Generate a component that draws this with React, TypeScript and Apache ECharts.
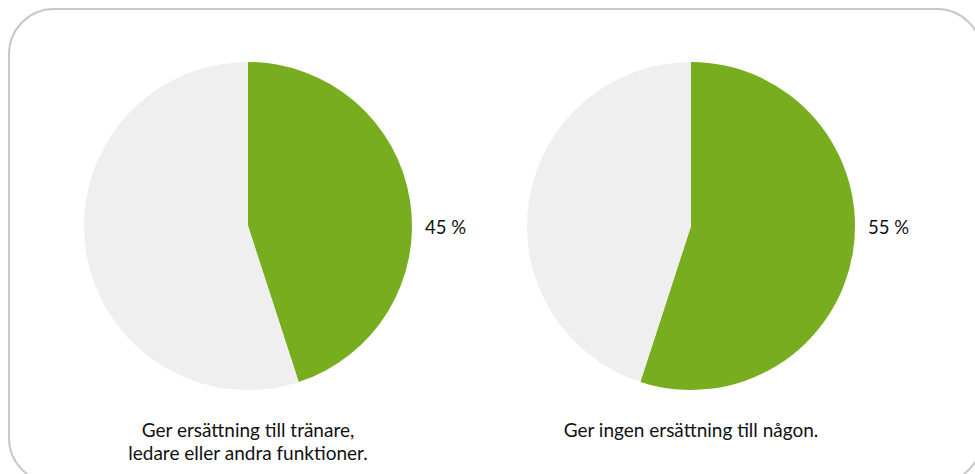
import React, { useEffect, useRef } from "react";
import * as echarts from "echarts";

const categories = ["Ger ersättning till tränare,\nledare eller andra funktioner.", "Ger ingen ersättning till någon."];
const greenValues = [45, 55];
const pieCentersX = [248, 691];
const GREEN = "#78ad1f";
const GREY = "#efefef";
const FONT = "Lato, 'Noto Sans', sans-serif";

export default function App() {
  const ref = useRef<HTMLDivElement>(null);
  useEffect(() => {
    if (!ref.current) return;
    const chart = echarts.init(ref.current, null, { renderer: "svg" });
    const series = greenValues.map((v, i) => ({
      type: "pie",
      center: [pieCentersX[i], 226],
      radius: [0, 164],
      startAngle: 90,
      clockwise: true,
      silent: true,
      label: { show: false },
      labelLine: { show: false },
      emphasis: { disabled: true },
      data: [
        { value: v, itemStyle: { color: GREEN } },
        { value: 100 - v, itemStyle: { color: GREY } },
      ],
    }));
    const graphic: any[] = [
      {
        type: "rect",
        shape: { x: 9, y: 9, width: 973, height: 474, r: 45 },
        style: { fill: "none", stroke: "#c8c8c8", lineWidth: 2 },
        z: 0,
      },
    ];
    greenValues.forEach((v, i) => {
      graphic.push({
        type: "text",
        x: pieCentersX[i] + 177,
        y: 227,
        style: { text: `${v} %`, font: `18.5px ${FONT}`, fill: "#111", textVerticalAlign: "middle", textAlign: "left" },
      });
      graphic.push({
        type: "text",
        x: pieCentersX[i],
        y: 418,
        style: { text: categories[i], font: `19px ${FONT}`, fill: "#111", textAlign: "center", lineHeight: 23 },
      });
    });
    chart.setOption({
      animation: false,
      backgroundColor: "#fff",
      series,
      graphic,
    });
    return () => chart.dispose();
  }, []);
  return <div ref={ref} style={{ position: "absolute", left: 0, top: 0, width: 975, height: 474 }} />;
}
